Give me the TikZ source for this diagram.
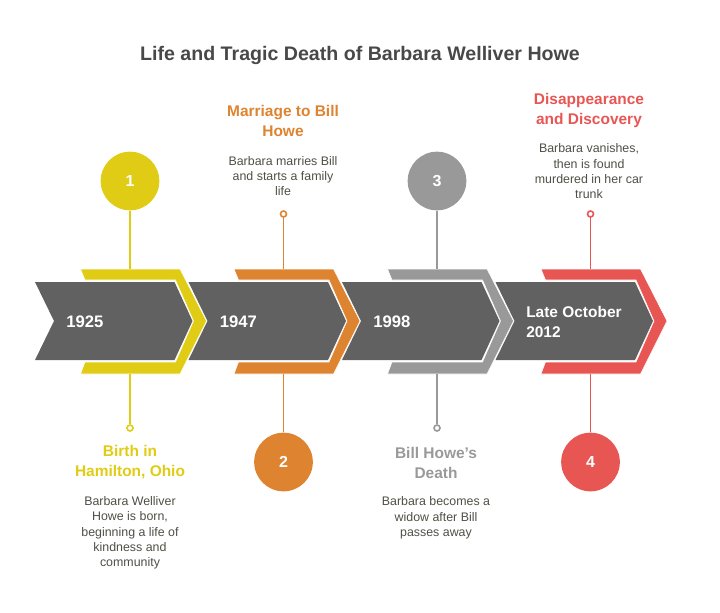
\documentclass[tikz,border=0pt]{standalone}
\usepackage{fontspec}
\setmainfont{Liberation Sans}
\definecolor{stepYellow}{HTML}{E0CC14}
\definecolor{stepOrange}{HTML}{DE8330}
\definecolor{stepGray}{HTML}{999999}
\definecolor{stepRed}{HTML}{E85654}
\definecolor{arrowDark}{HTML}{616161}
\definecolor{titleDark}{HTML}{484848}
\definecolor{bodyDark}{HTML}{4F4F45}
\tikzset{
  numCircle/.style={circle, minimum size=44pt, inner sep=0pt, text=white, font=\bfseries\fontsize{12}{14}\selectfont},
  endDot/.style={circle, draw=#1, fill=white, line width=1.2pt, minimum size=4.5pt, inner sep=0pt},
  yearText/.style={anchor=west, align=left, inner sep=0pt, text=white, font=\bfseries\fontsize{12.5}{15}\selectfont},
  headText/.style={align=center, font=\bfseries\fontsize{11.6}{15}\selectfont},
  bodyText/.style={align=center, text=bodyDark, font=\fontsize{9.3}{11.5}\selectfont},
  stemLine/.style={line width=1.2pt}
}
\begin{document}
\begin{tikzpicture}[x=0.75pt, y=-0.75pt]
  \useasboundingbox (0,0) rectangle (720,612);

  % Outlines of the dark arrow and the band around its tip
  \def\arrowBody{(35,282) -- (174.5,282) -- (192.5,321) -- (174.5,360) -- (35,360) -- (54,321) -- cycle}
  \def\arrowBand{(80.5,269) -- (180,269) -- (206.5,321) -- (180,374) -- (80.5,374) -- (85,362) -- (175.5,362) -- (193.5,321) -- (175.5,280) -- (85,280) -- cycle}

  \node[font=\bfseries\fontsize{14.7}{18}\selectfont, text=titleDark] (title) at (360,55.5) {Life and Tragic Death of Barbara Welliver Howe};

  % Arrows, left to right so each band lies over the next arrow
  \foreach \i/\col in {0/stepYellow, 1/stepOrange, 2/stepGray, 3/stepRed} {
    \begin{scope}[xshift=\i*153.5*0.75pt]
      \fill[arrowDark] \arrowBody;
      \fill[\col, draw=white, line width=0.4pt] \arrowBand;
      \coordinate (bandTop\i) at (130,269);
      \coordinate (bandBottom\i) at (130,374);
    \end{scope}
  }

  % Years
  \node[yearText] (year1) at (66,321.5) {1925};
  \node[yearText] (year2) at (219.5,321.5) {1947};
  \node[yearText] (year3) at (373,321.5) {1998};
  \node[yearText, font=\bfseries\fontsize{11.6}{15}\selectfont] (year4) at (526,321.5) {Late October\\2012};

  % Circles and end dots
  \node[numCircle, fill=stepYellow] (circle1) at (130,181) {1};
  \node[numCircle, fill=stepOrange] (circle2) at (283.5,462) {2};
  \node[numCircle, fill=stepGray] (circle3) at (437,181) {3};
  \node[numCircle, fill=stepRed] (circle4) at (590.5,462) {4};

  \node[endDot=stepYellow] (dot1) at (130,428) {};
  \node[endDot=stepOrange] (dot2) at (283.5,214) {};
  \node[endDot=stepGray] (dot3) at (437,428) {};
  \node[endDot=stepRed] (dot4) at (590.5,214) {};

  % Stems
  \draw[stemLine, stepYellow] (circle1) -- (bandTop0);
  \draw[stemLine, stepYellow] (bandBottom0) -- (dot1);
  \draw[stemLine, stepOrange] (dot2) -- (bandTop1);
  \draw[stemLine, stepOrange] (bandBottom1) -- (circle2);
  \draw[stemLine, stepGray] (circle3) -- (bandTop2);
  \draw[stemLine, stepGray] (bandBottom2) -- (dot3);
  \draw[stemLine, stepRed] (dot4) -- (bandTop3);
  \draw[stemLine, stepRed] (bandBottom3) -- (circle4);

  % Headings and descriptions
  \node[headText, text=stepYellow] (head1) at (130,462.5) {Birth in\\Hamilton, Ohio};
  \node[bodyText] (body1) at (130,533) {Barbara Welliver\\Howe is born,\\beginning a life of\\kindness and\\community};
  \node[headText, text=stepOrange] (head2) at (283,120.5) {Marriage to Bill\\Howe};
  \node[bodyText] (body2) at (283,176) {Barbara marries Bill\\and starts a family\\life};
  \node[headText, text=stepGray] (head3) at (436,462.5) {Bill Howe's\\Death};
  \node[bodyText] (body3) at (436,518) {Barbara becomes a\\widow after Bill\\passes away};
  \node[headText, text=stepRed] (head4) at (589,110.5) {Disappearance\\and Discovery};
  \node[bodyText] (body4) at (589,171.5) {Barbara vanishes,\\then is found\\murdered in her car\\trunk};
\end{tikzpicture}
\end{document}
